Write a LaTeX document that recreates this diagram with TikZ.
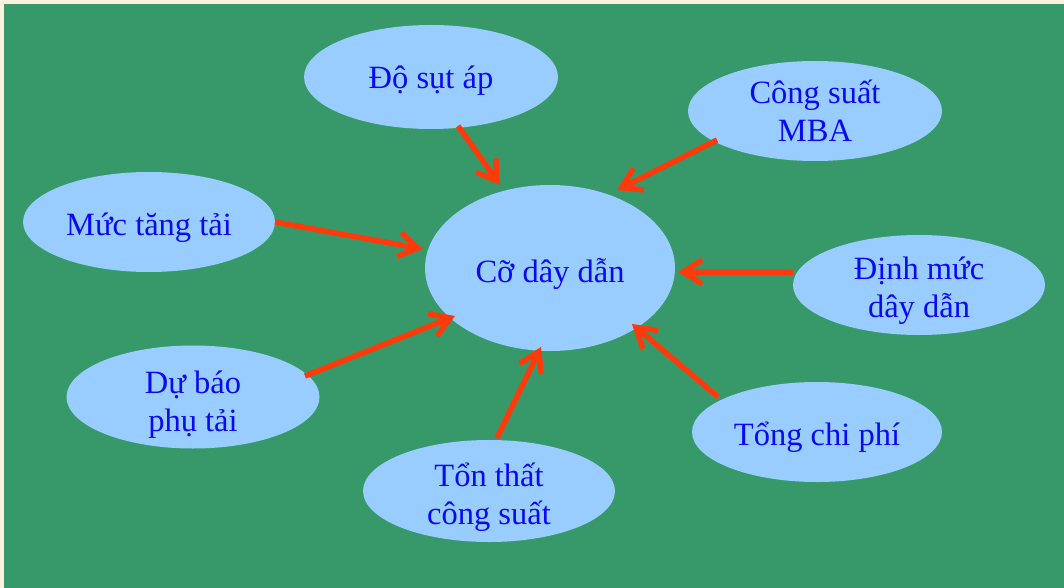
\documentclass[tikz,border=0pt]{standalone}
\usepackage{fontspec}
\setmainfont{Liberation Serif}
\usetikzlibrary{shapes.geometric,arrows.meta}
\definecolor{paper}{HTML}{FDF1DE}
\definecolor{field}{HTML}{37996A}
\definecolor{bubble}{HTML}{99CCFF}
\definecolor{ink}{HTML}{0A0AEE}
\definecolor{arrowred}{HTML}{FF3A0A}
\tikzset{
  bub/.style={ellipse, fill=bubble, draw=none, inner sep=0pt},
  txt/.style={text=ink, align=center, inner sep=0pt,
    font=\fontsize{32.5}{38}\selectfont},
  link/.style={draw=arrowred, line width=5.5pt,
    -{Straight Barb[length=19pt,width=24pt,line width=5.5pt]}}
}
\begin{document}
\begin{tikzpicture}[x=1pt,y=-1pt]
\useasboundingbox (0,0) rectangle (1064,588);
\fill[paper] (0,0) rectangle (1064,588);
\fill[field] (4,4) rectangle (1064,588);

% bubbles
\node[bub, minimum width=254pt, minimum height=104pt] (sut) at (431,77) {};
\node[bub, minimum width=254pt, minimum height=100pt] (mba) at (815,111) {};
\node[bub, minimum width=252pt, minimum height=100pt] (tang) at (149,222) {};
\node[bub, minimum width=250pt, minimum height=166pt] (co) at (550,268) {};
\node[bub, minimum width=252pt, minimum height=100pt] (dinh) at (919,285) {};
\node[bub, minimum width=253pt, minimum height=103pt] (du) at (193,397) {};
\node[bub, minimum width=250pt, minimum height=100pt] (tong) at (817,432) {};
\node[bub, minimum width=252pt, minimum height=102pt] (ton) at (489,491) {};

% bubble texts
\node[txt] (sutT)  at ([yshift=-4pt]sut.center)  {Độ sụt áp};
\node[txt] (mbaT)  at ([yshift=0pt]mba.center)   {Công suất\\MBA};
\node[txt] (tangT) at ([yshift=-6pt]tang.center) {Mức tăng tải};
\node[txt] (coT)   at ([yshift=-6pt]co.center)   {Cỡ dây dẫn};
\node[txt] (dinhT) at ([yshift=-6pt]dinh.center) {Định mức\\dây dẫn};
\node[txt] (duT)   at ([yshift=-8pt]du.center)   {Dự báo\\phụ tải};
\node[txt] (tongT) at ([yshift=-5pt]tong.center) {Tổng chi phí};
\node[txt] (tonT)  at ([yshift=-6pt]ton.center)  {Tổn thất\\công suất};

% arrow end points
\coordinate (a1) at (458,126);  \coordinate (b1) at (500,185);
\coordinate (a2) at (717,140);  \coordinate (b2) at (617,190);
\coordinate (a3) at (275,222);  \coordinate (b3) at (423,249);
\coordinate (a4) at (793,272);  \coordinate (b4) at (678,272);
\coordinate (a5) at (718,397);  \coordinate (b5) at (632,324);
\coordinate (a6) at (497,438);  \coordinate (b6) at (541,347);
\coordinate (a7) at (305,376);  \coordinate (b7) at (455,316);

\draw[link] (a1) -- (b1);
\draw[link] (a2) -- (b2);
\draw[link] (a3) -- (b3);
\draw[link] (a4) -- (b4);
\draw[link] (a5) -- (b5);
\draw[link] (a6) -- (b6);
\draw[link] (a7) -- (b7);
\end{tikzpicture}
\end{document}
